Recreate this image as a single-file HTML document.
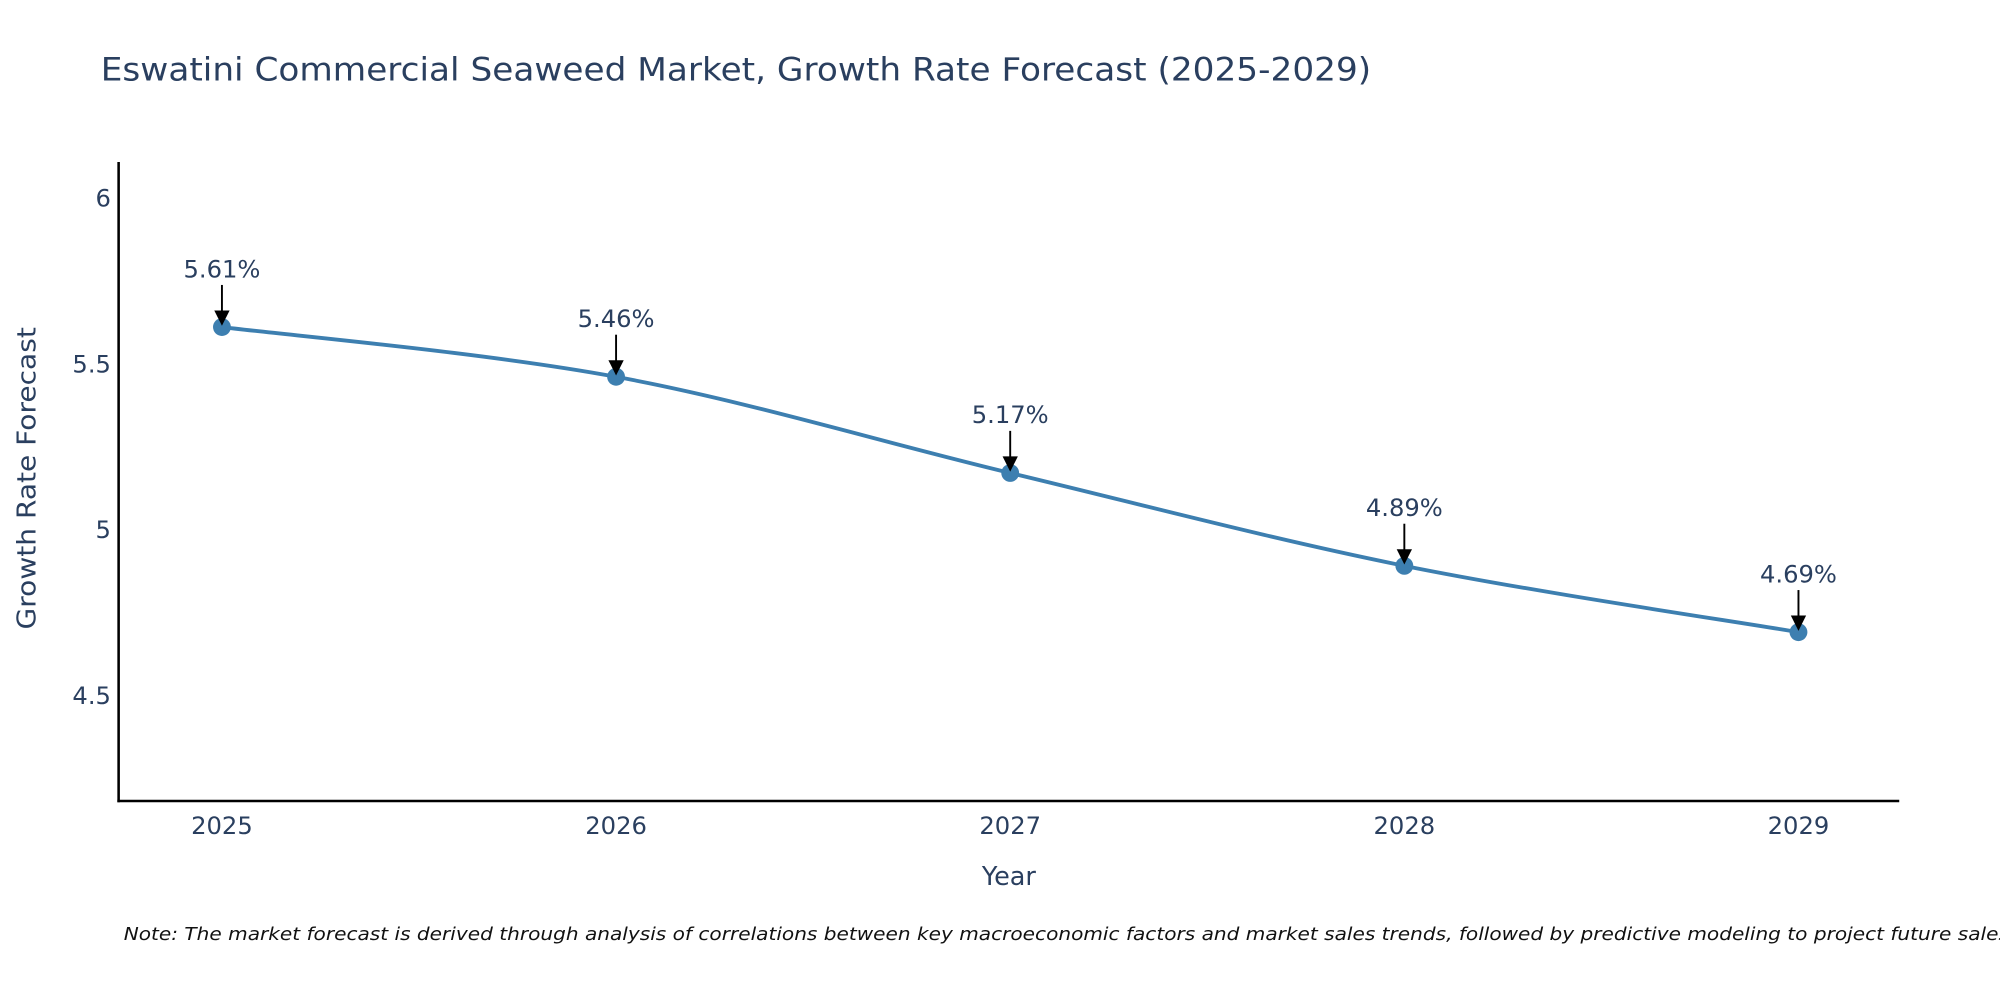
<!DOCTYPE html>
<html><head><meta charset="utf-8"><style>
html,body{margin:0;padding:0;background:#fff;}
svg{display:block;font-family:"DejaVu Sans","Liberation Sans",sans-serif;}
</style></head><body>
<svg width="2000" height="1000" viewBox="0 0 1568 784" xmlns="http://www.w3.org/2000/svg">
<text x="79" y="63" font-size="25" fill="#2a3f5f" textLength="996" lengthAdjust="spacingAndGlyphs">Eswatini Commercial Seaweed Market, Growth Rate Forecast (2025-2029)</text>
<g id="axes"></g>
<g id="series"></g>
<text x="791" y="694" font-size="20" fill="#2a3f5f" text-anchor="middle">Year</text>
<text transform="translate(28,375) rotate(-90)" font-size="20" fill="#2a3f5f" text-anchor="middle" textLength="237" lengthAdjust="spacingAndGlyphs">Growth Rate Forecast</text>
<text x="97" y="737" font-size="14" font-style="italic" fill="#111" textLength="1483" lengthAdjust="spacingAndGlyphs">Note: The market forecast is derived through analysis of correlations between key macroeconomic factors and market sales trends, followed by predictive modeling to project future sales.</text>
</svg>
<script>
const years = [2025, 2026, 2027, 2028, 2029];
const values = [5.61, 5.46, 5.17, 4.89, 4.69];
const labels = ["5.61%", "5.46%", "5.17%", "4.89%", "4.69%"];
const yTicks = [4.5, 5, 5.5, 6];
const yTickLabels = ["4.5", "5", "5.5", "6"];

const NS = "http://www.w3.org/2000/svg";
const X = v => 174 + (v - 2025) * 309;
const Y = v => 415 - (v - 5) * 260;
function mk(tag, attrs, parent, text) {
  const e = document.createElementNS(NS, tag);
  for (const k in attrs) e.setAttribute(k, attrs[k]);
  if (text !== undefined) e.textContent = text;
  parent.appendChild(e);
  return e;
}
const axes = document.getElementById("axes");
const series = document.getElementById("series");

let yl = mk("line", {x1: 93, y1: 127, x2: 93, y2: 629, stroke: "#000", "stroke-width": 2}, axes);


let xl = mk("line", {x1: 92, y1: 628, x2: 1489, y2: 628, stroke: "#000", "stroke-width": 2}, axes);



yTicks.forEach((t, i) => {
  const el = mk("text", {x: 87, y: Y(t) + 7, "font-size": 19, fill: "#2a3f5f", "text-anchor": "end"}, axes, yTickLabels[i]);
  
  
});
years.forEach(yr => {
  const el = mk("text", {x: X(yr), y: 654, "font-size": 19, fill: "#2a3f5f", "text-anchor": "middle"}, axes, String(yr));
  
  
});

const pts = years.map((yr, i) => [X(yr), Y(values[i])]);
let d = `M${pts[0][0]},${pts[0][1]}`;
const s = 0.5 / 3 * 2;
for (let i = 0; i < pts.length - 1; i++) {
  const p0 = pts[i - 1] || pts[i], p1 = pts[i], p2 = pts[i + 1], p3 = pts[i + 2] || p2;
  const c1 = [p1[0] + (p2[0] - p0[0]) * s / 2, p1[1] + (p2[1] - p0[1]) * s / 2];
  const c2 = [p2[0] - (p3[0] - p1[0]) * s / 2, p2[1] - (p3[1] - p1[1]) * s / 2];
  d += ` C${c1[0]},${c1[1]} ${c2[0]},${c2[1]} ${p2[0]},${p2[1]}`;
}
const line = mk("path", {d: d, fill: "none", stroke: "#3d7fb0", "stroke-width": 3}, series);



pts.forEach((p, i) => {
  const c = mk("circle", {cx: p[0], cy: p[1], r: 7, fill: "#3d7fb0"}, series);
  
  
  const a = mk("line", {x1: p[0], y1: p[1] - 33, x2: p[0], y2: p[1] - 10, stroke: "#000", "stroke-width": 1.5}, series);
  
  
  const h = mk("polygon", {points: `${p[0]-6},${p[1]-13} ${p[0]+6},${p[1]-13} ${p[0]},${p[1]-1}`, fill: "#000"}, series);
  
  
  const t = mk("text", {x: p[0], y: p[1] - 39, "font-size": 19, fill: "#2a3f5f", "text-anchor": "middle"}, series, labels[i]);
  
  
});
</script>
</body></html>
